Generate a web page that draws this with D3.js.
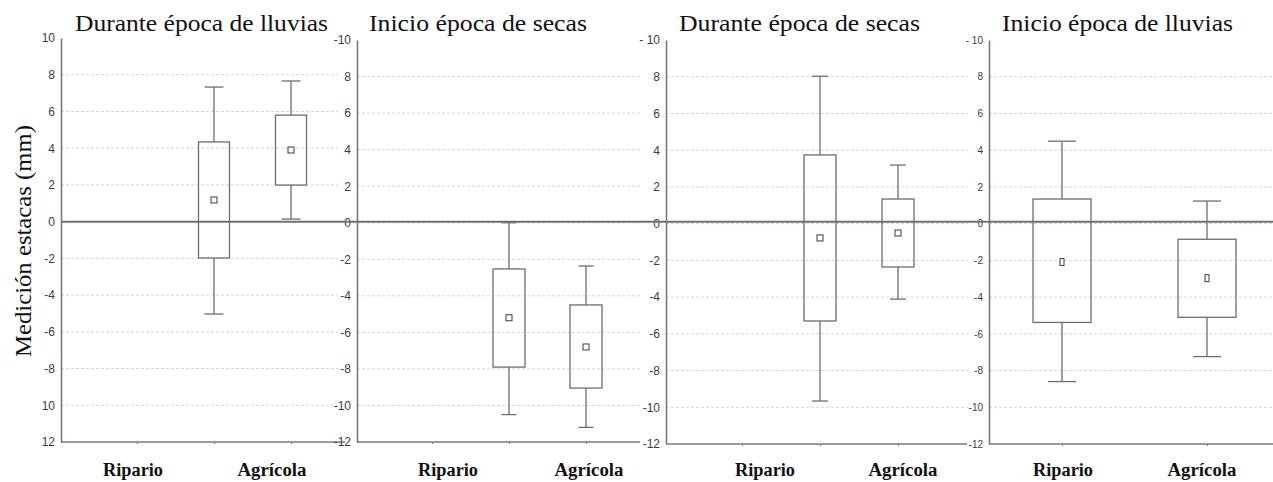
<!DOCTYPE html>
<html>
<head>
<meta charset="utf-8">
<script src="https://cdn.jsdelivr.net/npm/d3@7/dist/d3.min.js"></script>
<style>
  html, body { margin: 0; padding: 0; background: #fff; }
  svg { display: block; }
</style>
</head>
<body>
<svg id="chart" width="1273" height="482"></svg>
<script>
// ---------------- DATA ----------------
const categories = ["Ripario", "Agrícola"];
const panelTitles = ["Durante época de lluvias", "Inicio época de secas", "Durante época de secas", "Inicio época de lluvias"];
const yLabel = "Medición estacas (mm)";
const tickValues = [10, 8, 6, 4, 2, 0, -2, -4, -6, -8, -10, -12];
const tickLabelsP1 = ["10", "8", "6", "4", "2", "0", "-2", "-4", "-6", "-8", "10", "12"];
const tickLabelsP2 = ["-10", "8", "6", "4", "2", "0", "-2", "-4", "-6", "-8", "-10", "-12"];
const tickLabelsP3 = ["- 10", "8", "6", "4", "2", "0", "-2", "-4", "-6", "-8", "-10", "-12"];
const tickLabelsP4 = ["- 10", "8", "6", "4", "2", "0", "-2", "-4", "-6", "-8", "-10", "-12"];
// per panel, per category [Ripario, Agrícola]
const whiskerHigh = [[7.33, 7.66], [0.0, -2.37], [8.03, 3.19], [4.49, 1.23]];
const boxHigh     = [[4.34, 5.8],  [-2.53, -4.5], [3.74, 1.34], [1.34, -0.85]];
const means       = [[1.18, 3.9],  [-5.2, -6.8],  [-0.78, -0.51], [-2.09, -2.97]];
const boxLow      = [[-1.98, 1.99], [-7.9, -9.05], [-5.3, -2.36], [-5.38, -5.1]];
const whiskerLow  = [[-5.03, 0.14], [-10.5, -11.2], [-9.66, -4.11], [-8.6, -7.24]];

// ---------------- LAYOUT ----------------
const layout = [
  { axisX: 61,  axisRight: 345,  gridRight: 338,  yRange: [38, 442], centers: [214, 291],  xTicks: [-1, 0, 1], boxW: 31, capW: 19,
    labelX: [133, 272], titleX: 75,   titleW: 253, tickFont: 12, tickLabels: tickLabelsP1, meanW: 6, meanH: 6 },
  { axisX: 357, axisRight: 640,  gridRight: 640,  yRange: [40, 442], centers: [509, 586],  xTicks: [-1, 0, 1], boxW: 32, capW: 15,
    labelX: [448, 589], titleX: 369,  titleW: 218, tickFont: 12, tickLabels: tickLabelsP2, meanW: 6, meanH: 6 },
  { axisX: 666, axisRight: 967,  gridRight: 968,  yRange: [40, 444], centers: [820, 898],  xTicks: [-1, 0, 1], boxW: 32, capW: 16,
    labelX: [765, 903], titleX: 679,  titleW: 241, tickFont: 12, tickLabels: tickLabelsP3, meanW: 6, meanH: 6 },
  { axisX: 989, axisRight: 1273, gridRight: 1273, yRange: [40, 444], centers: [1062, 1207], xTicks: [0, 1], boxW: 58, capW: 28,
    labelX: [1063, 1202], titleX: 1002, titleW: 231, tickFont: 10, tickLabels: tickLabelsP4, meanW: 4, meanH: 7 }
];

const serif = "'Liberation Serif', 'Times New Roman', Times, serif";
const sans = "'Liberation Sans', Arial, Helvetica, sans-serif";
const svg = d3.select("#chart");
const gridColor = "#d6d6d6";
const axisColor = "#7a7a7a";
const boxColor = "#6e6e6e";

layout.forEach((L, p) => {
  const g = svg.append("g");
  const y = d3.scaleLinear().domain([10, -12]).range(L.yRange);
  const x = d3.scaleLinear().domain([0, 1]).range(L.centers);

  // gridlines
  g.selectAll("line.grid").data(tickValues.filter(v => v !== 10 && v !== -12)).join("line")
    .attr("class", "grid")
    .attr("x1", L.axisX).attr("x2", L.gridRight)
    .attr("y1", d => y(d)).attr("y2", d => y(d))
    .attr("stroke", gridColor).attr("stroke-width", 1).attr("stroke-dasharray", "3,2");

  // y axis via d3
  const yAxis = d3.axisLeft(y).tickValues(tickValues).tickSize(0).tickPadding(6)
    .tickFormat((d, i) => L.tickLabels[i]);
  const ya = g.append("g").attr("transform", `translate(${L.axisX},0)`).call(yAxis);
  ya.select(".domain").attr("stroke", axisColor).attr("stroke-width", 1.6);
  ya.selectAll("text").attr("font-family", sans)
    .attr("font-size", L.tickFont).attr("fill", "#3c3c3c");

  // x axis
  const xAxis = d3.axisBottom(x).tickValues(L.xTicks).tickSize(2).tickFormat("");
  const xa = g.append("g").attr("transform", `translate(0,${y(-12)})`).call(xAxis);
  xa.select(".domain").remove();
  xa.selectAll(".tick line").attr("stroke", axisColor).attr("stroke-width", 1);
  g.append("line").attr("x1", L.axisX).attr("x2", L.axisRight)
    .attr("y1", y(-12)).attr("y2", y(-12))
    .attr("stroke", axisColor).attr("stroke-width", 1.6);

  // boxes
  categories.forEach((c, i) => {
    const cx = x(i);
    g.append("line").attr("x1", cx).attr("x2", cx)
      .attr("y1", y(whiskerHigh[p][i])).attr("y2", y(boxHigh[p][i]))
      .attr("stroke", boxColor).attr("stroke-width", 1.3);
    g.append("line").attr("x1", cx).attr("x2", cx)
      .attr("y1", y(boxLow[p][i])).attr("y2", y(whiskerLow[p][i]))
      .attr("stroke", boxColor).attr("stroke-width", 1.3);
    [whiskerHigh[p][i], whiskerLow[p][i]].forEach(v => {
      g.append("line").attr("x1", cx - L.capW / 2).attr("x2", cx + L.capW / 2)
        .attr("y1", y(v)).attr("y2", y(v))
        .attr("stroke", boxColor).attr("stroke-width", 1.3);
    });
    g.append("rect").attr("x", cx - L.boxW / 2).attr("width", L.boxW)
      .attr("y", y(boxHigh[p][i])).attr("height", y(boxLow[p][i]) - y(boxHigh[p][i]))
      .attr("fill", "none").attr("stroke", boxColor).attr("stroke-width", 1.3);
    g.append("rect").attr("x", cx - L.meanW / 2).attr("width", L.meanW)
      .attr("y", y(means[p][i]) - L.meanH / 2).attr("height", L.meanH)
      .attr("fill", "#fff").attr("stroke", "#3a3a3a").attr("stroke-width", 1);

    g.append("text").attr("x", L.labelX[i]).attr("y", 476)
      .attr("text-anchor", "middle")
      .attr("font-family", serif)
      .attr("font-weight", "bold").attr("font-size", 18).attr("fill", "#111")
      .attr("textLength", i === 0 ? 60 : 69).attr("lengthAdjust", "spacingAndGlyphs")
      .text(c);
  });

  // title
  g.append("text").attr("x", L.titleX).attr("y", 31)
    .attr("font-family", serif)
    .attr("font-size", 23).attr("fill", "#111")
    .attr("textLength", L.titleW).attr("lengthAdjust", "spacingAndGlyphs")
    .text(panelTitles[p]);
});

// common zero reference line
const y1 = d3.scaleLinear().domain([10, -12]).range(layout[0].yRange);
svg.append("line").attr("x1", layout[0].axisX).attr("x2", 1273)
  .attr("y1", y1(0)).attr("y2", y1(0))
  .attr("stroke", "#707070").attr("stroke-width", 2);

// y axis title
svg.append("text")
  .attr("transform", "translate(31,241) rotate(-90)")
  .attr("text-anchor", "middle")
  .attr("font-family", serif)
  .attr("font-size", 23).attr("fill", "#111")
  .attr("textLength", 232).attr("lengthAdjust", "spacingAndGlyphs")
  .text(yLabel);
</script>
</body>
</html>
